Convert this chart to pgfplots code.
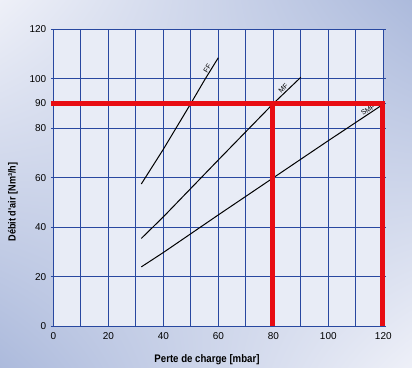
\documentclass[border=0pt]{standalone}
\usepackage{pgfplots}
\pgfplotsset{compat=1.18}
\usetikzlibrary{shadings}
\usepackage{fontspec}
\setmainfont{Liberation Sans}
\newfontfamily\condfont[FakeStretch=0.88]{Liberation Sans}
\definecolor{gridblue}{RGB}{40,72,160}
\definecolor{redl}{RGB}{232,12,18}
\definecolor{bgA}{RGB}{238,240,248}
\definecolor{bgB}{RGB}{172,186,220}
\definecolor{plotbg}{RGB}{232,236,246}
\begin{document}
\begin{tikzpicture}
\shade[upper left=bgA, upper right=bgB, lower left=bgB, lower right=bgA] (-53.3bp,-41.7bp) rectangle (358.7bp,326.3bp);
\begin{axis}[
  at={(0,0)}, anchor=south west,
  width=330bp, height=297bp, scale only axis,
  xmin=0, xmax=120, ymin=0, ymax=120,
  xtick={0,20,...,120},
  minor xtick={10,30,...,110},
  ytick={0,20,40,60,80,90,100,120},
  grid=both,
  major grid style={gridblue, line width=0.8bp},
  minor grid style={gridblue, line width=0.8bp},
  axis line style={gridblue, line width=0.8bp},
  tick style={gridblue, line width=0.8bp},
  xtick style={draw=none},
  major tick length=2.5bp, minor tick length=0pt,
  tick align=outside,
  /pgf/number format/assume math mode=true,
  ticklabel style={font=\fontsize{10}{12}\selectfont, text=black},
  yticklabel style={xshift=-1bp},
  clip=false,
  axis background/.style={fill=plotbg},
]
% FF
\addplot[black, line width=1bp] coordinates {(32,57.5) (40,71.5) (50,90) (55,99.5) (60,108.5)};
% MF
\addplot[black, line width=1bp] coordinates {(32,35.5) (40,44.2) (60,67.2) (80,90) (90,100.6)};
% SMF
\addplot[black, line width=1bp] coordinates {(32,24) (40,29.8) (60,45) (80,60) (100,75) (119,89)};
\node[rotate=58, anchor=south, inner sep=1.2bp, font=\fontsize{7}{8}\selectfont] at (axis cs:57.2,103.5) {FF};
\node[rotate=45, anchor=south, inner sep=1.2bp, font=\fontsize{7}{8}\selectfont] at (axis cs:84.6,95.0) {MF};
\node[rotate=34, anchor=south, inner sep=1.2bp, font=\fontsize{7}{8}\selectfont] at (axis cs:115.2,86.2) {SMF};
% red reading lines
\addplot[redl, line width=4.6bp, line join=miter] coordinates {(-0.9,90) (119.7,90) (119.7,0)};
\addplot[redl, line width=4.6bp] coordinates {(79.8,0) (79.8,90)};
\end{axis}
\node[font=\condfont\bfseries\fontsize{11}{13}\selectfont] at (153.7bp,-33.7bp) {Perte de charge [mbar]};
\node[rotate=90, font=\condfont\bfseries\fontsize{10.4}{12}\selectfont] at (-40.3bp,124.3bp) {Débit d'air [Nm³/h]};
\end{tikzpicture}
\end{document}
